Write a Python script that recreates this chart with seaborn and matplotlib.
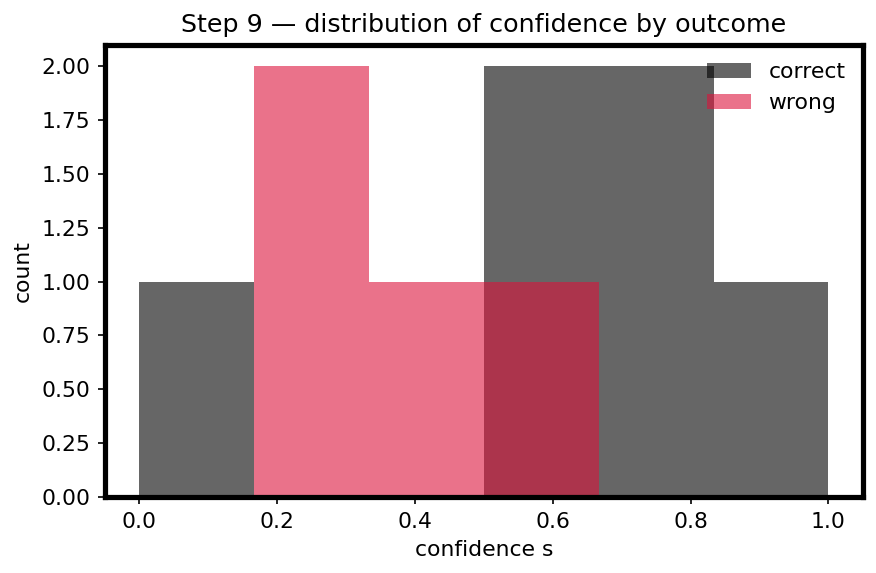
import numpy as np
import pandas as pd
import matplotlib
matplotlib.use("Agg")
import matplotlib.pyplot as plt
import seaborn as sns

# confidence values per outcome
correct_conf = [0.05, 0.55, 0.60, 0.70, 0.75, 0.95]
wrong_conf = [0.20, 0.30, 0.40, 0.60]
n_bins = 6
bin_range = (0.0, 1.0)

plt.rcParams['font.size'] = 10.5

fig, ax = plt.subplots(figsize=(5.84, 3.82), dpi=150)

sns.histplot(x=correct_conf, bins=n_bins, binrange=bin_range, color="black",
             alpha=0.6, linewidth=0, label="correct", ax=ax)
sns.histplot(x=wrong_conf, bins=n_bins, binrange=bin_range, color="crimson",
             alpha=0.6, linewidth=0, label="wrong", ax=ax)

ax.set_title("Step 9 \u2014 distribution of confidence by outcome", fontsize=12.2)
ax.set_xlabel("confidence s")
ax.set_ylabel("count")
ax.set_yticks(np.arange(0, 2.01, 0.25))
ax.set_yticklabels([f"{v:.2f}" for v in np.arange(0, 2.01, 0.25)])
for sp in ax.spines.values():
    sp.set_linewidth(2.5)
ax.legend(loc="upper right", frameon=False, fontsize=10.5, borderaxespad=0.4)

fig.tight_layout(pad=0.6)
fig.savefig("out.png", dpi=150)
